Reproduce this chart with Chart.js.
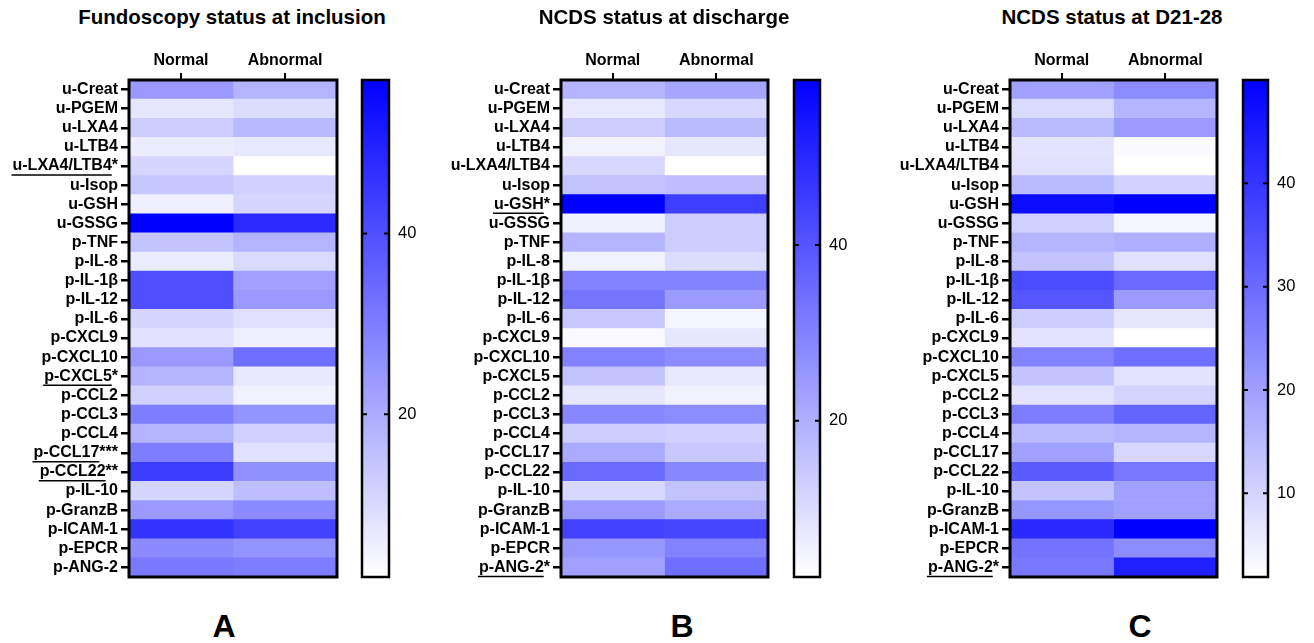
<!DOCTYPE html>
<html>
<head>
<meta charset="utf-8">
<script src="https://cdn.jsdelivr.net/npm/chart.js@4.4.0/dist/chart.umd.min.js"></script>
<style>
  body { margin: 0; background: #fff; width: 1314px; height: 643px; position: relative; overflow: hidden;
         font-family: 'Liberation Sans', Arial, sans-serif; }
  canvas { position: absolute; }
  .title { position: absolute; font-weight: bold; font-size: 20.5px; transform: translate(-50%, -50%); white-space: nowrap; }
  .letter { position: absolute; font-weight: bold; font-size: 32px; transform: translate(-50%, -50%); }
</style>
</head>
<body>
<script>
// ---- data ----
const columns = ['Normal', 'Abnormal'];

const labelsA = ['u-Creat', 'u-PGEM', 'u-LXA4', 'u-LTB4', 'u-LXA4/LTB4*', 'u-Isop', 'u-GSH', 'u-GSSG',
  'p-TNF', 'p-IL-8', 'p-IL-1β', 'p-IL-12', 'p-IL-6', 'p-CXCL9', 'p-CXCL10', 'p-CXCL5*', 'p-CCL2',
  'p-CCL3', 'p-CCL4', 'p-CCL17***', 'p-CCL22**', 'p-IL-10', 'p-GranzB', 'p-ICAM-1', 'p-EPCR', 'p-ANG-2'];
const normalA   = [24, 7.5, 13, 6, 11, 14, 5.5, 57, 15, 6, 40, 40, 11, 8.5, 24, 18.5, 12, 30, 18.5, 30, 44, 11, 24, 46, 27, 31];
const abnormalA = [18.5, 9.5, 17, 7, 2, 12, 11, 48, 18.5, 10, 22.5, 24, 8.5, 5.5, 33, 7, 5, 25, 12, 8.5, 26, 16, 27, 43, 25, 30];
const rangeA = [2, 57];
const cbTicksA = [20, 40];

const labelsB = ['u-Creat', 'u-PGEM', 'u-LXA4', 'u-LTB4', 'u-LXA4/LTB4', 'u-Isop', 'u-GSH*', 'u-GSSG',
  'p-TNF', 'p-IL-8', 'p-IL-1β', 'p-IL-12', 'p-IL-6', 'p-CXCL9', 'p-CXCL10', 'p-CXCL5', 'p-CCL2',
  'p-CCL3', 'p-CCL4', 'p-CCL17', 'p-CCL22', 'p-IL-10', 'p-GranzB', 'p-ICAM-1', 'p-EPCR', 'p-ANG-2*'];
const normalB   = [18.6, 7.3, 13.5, 5, 11, 15.7, 58.8, 5.5, 18.6, 5, 30, 33, 14.5, 3.5, 30, 15.7, 7.8, 28.8, 13.5, 21, 35.5, 11, 24.4, 44.4, 25.5, 23.3];
const abnormalB = [22, 11, 17.5, 7.8, 2.2, 16.6, 45, 13.5, 13.5, 10, 30, 24.4, 4.5, 7.8, 27.7, 7.3, 5, 27.7, 12.5, 14.5, 28.8, 15.7, 21, 43.2, 30, 34.4];
const rangeB = [2.2, 58.8];
const cbTicksB = [20, 40];

const labelsC = ['u-Creat', 'u-PGEM', 'u-LXA4', 'u-LTB4', 'u-LXA4/LTB4', 'u-Isop', 'u-GSH', 'u-GSSG',
  'p-TNF', 'p-IL-8', 'p-IL-1β', 'p-IL-12', 'p-IL-6', 'p-CXCL9', 'p-CXCL10', 'p-CXCL5', 'p-CCL2',
  'p-CCL3', 'p-CCL4', 'p-CCL17', 'p-CCL22', 'p-IL-10', 'p-GranzB', 'p-ICAM-1', 'p-EPCR', 'p-ANG-2*'];
const normalC   = [19.8, 8.9, 14.9, 7.1, 7.6, 14.9, 48, 10.8, 15.9, 13.2, 35.6, 34, 11.3, 7.1, 25.5, 13.2, 7.1, 26.4, 14.9, 19.8, 33, 13.2, 21.7, 42.5, 28.3, 27.4];
const abnormalC = [23.5, 15.9, 20.8, 2.8, 1.9, 10.4, 50, 3.8, 17, 7.6, 30.2, 20.8, 6.6, 1.9, 29.2, 7.1, 10, 31.1, 15.9, 9.4, 27.4, 19.8, 19.8, 50, 23.5, 44.3];
const rangeC = [1.9, 50];
const cbTicksC = [10, 20, 30, 40];

const titles = ['Fundoscopy status at inclusion', 'NCDS status at discharge', 'NCDS status at D21-28'];
const panelLetters = ['A', 'B', 'C'];

// ---- layout ----
const FONT = 'Liberation Sans';
const LABEL_SIZE = 16;
const panels = [
  { labels: labelsA, normal: normalA, abnormal: abnormalA, range: rangeA, ticks: cbTicksA,
    map: [129, 337], bar: [362, 389], titleX: 232, letterX: 224 },
  { labels: labelsB, normal: normalB, abnormal: abnormalB, range: rangeB, ticks: cbTicksB,
    map: [561, 768], bar: [794, 820], titleX: 664, letterX: 682 },
  { labels: labelsC, normal: normalC, abnormal: abnormalC, range: rangeC, ticks: cbTicksC,
    map: [1010, 1217], bar: [1243, 1268], titleX: 1112, letterX: 1140 }
];
const TOP = 80, BOTTOM = 577, YAXIS_W = 129, XAXIS_H = 40, CB_AXIS_W = 51;

// fixed box sizes, no label overflow padding
function fixWidth(w) {
  return s => { s.width = w; s.paddingTop = 0; s.paddingBottom = 0; };
}

const framePlugin = {
  id: 'frame',
  afterDatasetsDraw(chart, args, opts) {
    const a = chart.chartArea, c = chart.ctx;
    c.save();
    c.lineWidth = opts.width || 3;
    c.strokeStyle = '#000';
    c.strokeRect(a.left, a.top, a.right - a.left, a.bottom - a.top);
    c.restore();
  }
};

// underline the significant markers (labels carrying asterisks)
const underlinePlugin = {
  id: 'underline',
  afterDraw(chart) {
    const s = chart.scales.y, c = chart.ctx;
    const right = s.right - 8 - 3;
    c.save();
    c.font = 'bold ' + LABEL_SIZE + 'px "' + FONT + '"';
    c.strokeStyle = '#000';
    c.lineWidth = 1.5;
    chart.data.labels.forEach((lab, i) => {
      if (!lab.includes('*')) return;
      const name = lab.replace(/\*+$/, '');
      const w = c.measureText(lab).width;
      const wn = c.measureText(name).width;
      const y = s.getPixelForTick(i) + 9;
      c.beginPath();
      c.moveTo(right - w - 1, y);
      c.lineTo(right - w + wn, y);
      c.stroke();
    });
    c.restore();
  }
};

// little inward tick marks on both edges of the colour bar
const edgeTickPlugin = {
  id: 'edgeTicks',
  afterDatasetsDraw(chart) {
    const a = chart.chartArea, c = chart.ctx, y = chart.scales.y;
    c.save();
    c.strokeStyle = '#000';
    c.lineWidth = 2;
    y.ticks.forEach(t => {
      const py = y.getPixelForValue(t.value);
      c.beginPath();
      c.moveTo(a.left, py); c.lineTo(a.left + 5, py);
      c.moveTo(a.right - 5, py); c.lineTo(a.right, py);
      c.stroke();
    });
    c.restore();
  }
};

function addCanvas(left, top, w, h) {
  const cv = document.createElement('canvas');
  cv.width = w; cv.height = h;
  cv.style.left = left + 'px'; cv.style.top = top + 'px';
  cv.style.width = w + 'px'; cv.style.height = h + 'px';
  document.body.appendChild(cv);
  return cv;
}

function addText(cls, text, x, y) {
  const d = document.createElement('div');
  d.className = cls;
  d.textContent = text;
  d.style.left = x + 'px';
  d.style.top = y + 'px';
  document.body.appendChild(d);
}

function heatColor(range) {
  return v => {
    const t = Math.max(0, Math.min(1, (v - range[0]) / (range[1] - range[0])));
    const c = Math.round(255 * (1 - t));
    return 'rgb(' + c + ',' + c + ',255)';
  };
}

panels.forEach((p, k) => {
  const color = heatColor(p.range);
  const w = (p.map[1] - p.map[0]) + YAXIS_W + 8;
  const h = (BOTTOM - TOP) + XAXIS_H + 8;
  const cv = addCanvas(p.map[0] - YAXIS_W, TOP - XAXIS_H, w, h);

  new Chart(cv, {
    type: 'bar',
    data: {
      labels: p.labels,
      datasets: [
        { label: columns[0], data: p.normal.map(() => [0, 1]), backgroundColor: p.normal.map(color) },
        { label: columns[1], data: p.abnormal.map(() => [1, 2]), backgroundColor: p.abnormal.map(color) }
      ]
    },
    options: {
      indexAxis: 'y',
      responsive: false,
      animation: false,
      layout: { padding: { left: 0, right: 8, top: 0, bottom: 8 } },
      datasets: { bar: { grouped: false, barPercentage: 1, categoryPercentage: 1, borderWidth: 0 } },
      plugins: { legend: { display: false }, tooltip: { enabled: false }, frame: { width: 3 } },
      scales: {
        x: {
          type: 'linear', position: 'top', min: 0, max: 2,
          afterBuildTicks: s => { s.ticks = columns.map((c, i) => ({ value: i + 0.5 })); },
          afterFit: s => { s.height = XAXIS_H; s.paddingLeft = 0; s.paddingRight = 0; },
          ticks: { callback: (v, i) => columns[i], color: '#000', padding: 3, maxRotation: 0, autoSkip: false,
                   font: { family: FONT, size: LABEL_SIZE, weight: 'bold' } },
          grid: { drawOnChartArea: false, tickLength: 7, lineWidth: 2, color: '#000' },
          border: { display: false }
        },
        y: {
          afterFit: fixWidth(YAXIS_W),
          ticks: { color: '#000', padding: 3, autoSkip: false, font: { family: FONT, size: LABEL_SIZE, weight: 'bold' } },
          grid: { offset: false, drawOnChartArea: false, tickLength: 8, lineWidth: 2.5, color: '#000' },
          border: { display: false }
        }
      }
    },
    plugins: [framePlugin, underlinePlugin]
  });

  // colour scale bar
  const bw = 7 + (p.bar[1] - p.bar[0]) + CB_AXIS_W;
  const cb = addCanvas(p.bar[0] - 7, TOP - XAXIS_H, bw, h);
  new Chart(cb, {
    type: 'bar',
    data: {
      labels: [''],
      datasets: [{
        data: [p.range],
        barPercentage: 1, categoryPercentage: 1, borderWidth: 0,
        backgroundColor: ctx => {
          const ch = ctx.chart;
          if (!ch.chartArea) return '#88f';
          const y = ch.scales.y;
          const g = ch.ctx.createLinearGradient(0, y.getPixelForValue(p.range[0]), 0, y.getPixelForValue(p.range[1]));
          g.addColorStop(0, '#ffffff');
          g.addColorStop(1, '#0000ff');
          return g;
        }
      }]
    },
    options: {
      responsive: false,
      animation: false,
      layout: { padding: { left: 7, right: 0, top: XAXIS_H, bottom: 8 } },
      plugins: { legend: { display: false }, tooltip: { enabled: false }, frame: { width: 2.5 } },
      scales: {
        x: { display: false },
        y: {
          position: 'right', min: p.range[0], max: p.range[1],
          afterBuildTicks: s => { s.ticks = p.ticks.map(v => ({ value: v })); },
          afterFit: fixWidth(CB_AXIS_W),
          ticks: { color: '#000', padding: 9, font: { family: FONT, size: 16.5 } },
          grid: { display: false, drawTicks: false },
          border: { display: false }
        }
      }
    },
    plugins: [framePlugin, edgeTickPlugin]
  });

  addText('title', titles[k], p.titleX, 17);
  addText('letter', panelLetters[k], p.letterX, 626);
});
</script>
</body>
</html>
